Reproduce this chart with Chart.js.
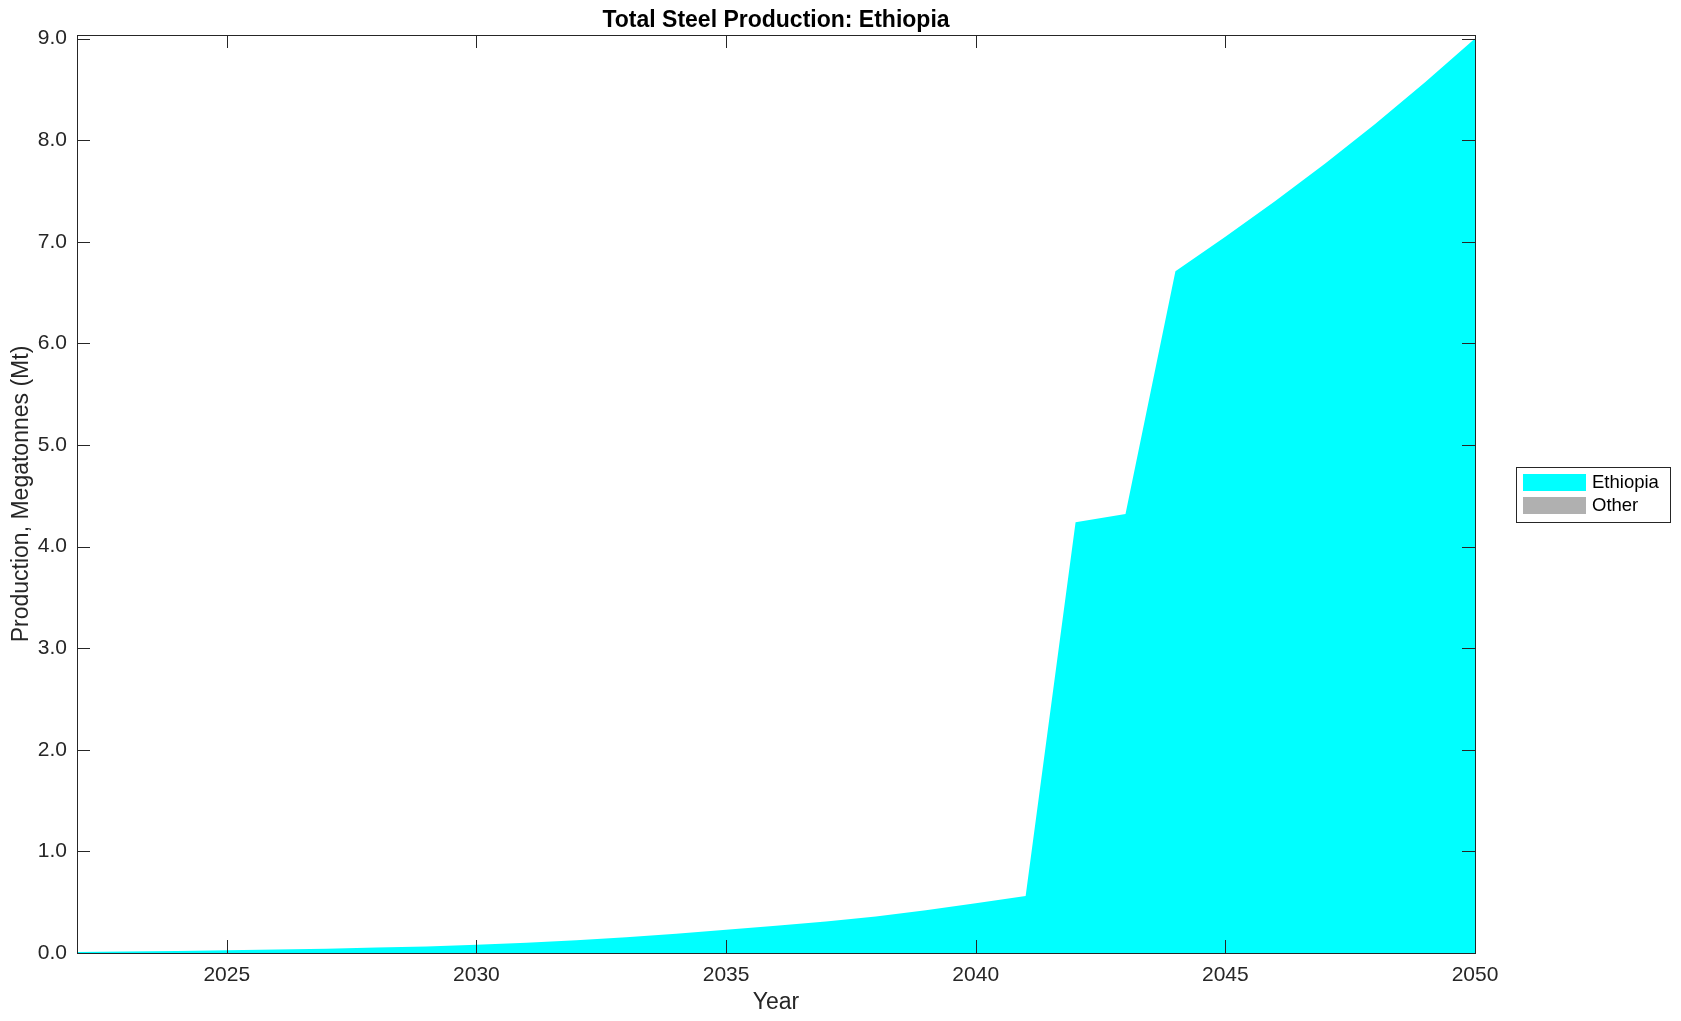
<!DOCTYPE html>
<html>
<head>
<meta charset="utf-8">
<title>Total Steel Production: Ethiopia</title>
<script src="https://cdn.jsdelivr.net/npm/chart.js@4.4.0/dist/chart.umd.min.js"></script>
<style>
  html, body { margin: 0; padding: 0; background: #fff; }
  canvas { display: block; }
</style>
</head>
<body>
<canvas id="steel" width="1681" height="1021"></canvas>
<script>
// --- data ---
const years = [2022, 2023, 2024, 2025, 2026, 2027, 2028, 2029, 2030, 2031,
               2032, 2033, 2034, 2035, 2036, 2037, 2038, 2039, 2040, 2041,
               2042, 2043, 2044, 2045, 2046, 2047, 2048, 2049, 2050];
const ethiopia = [0.010, 0.015, 0.020, 0.027, 0.034, 0.043, 0.053, 0.065, 0.080, 0.100,
                  0.125, 0.155, 0.190, 0.230, 0.267, 0.310, 0.360, 0.420, 0.490, 0.560,
                  4.240, 4.320, 6.710, 7.050, 7.400, 7.770, 8.160, 8.570, 9.000];
const other = [0, 0, 0, 0, 0, 0, 0, 0, 0, 0,
               0, 0, 0, 0, 0, 0, 0, 0, 0, 0,
               0, 0, 0, 0, 0, 0, 0, 0, 0];
const xTicks = [2025, 2030, 2035, 2040, 2045, 2050];
const yTicks = [0, 1, 2, 3, 4, 5, 6, 7, 8, 9];

const AXIS = '#262626';
const FONT = '"Liberation Sans", Arial, Helvetica, sans-serif';

// box, inward ticks, titles and legend drawn MATLAB style
const matlabFrame = {
    id: 'matlabFrame',
    afterDatasetsDraw(chart) {
        const ctx = chart.ctx;
        const { left, right, top, bottom } = chart.chartArea;
        const tl = 13;
        ctx.save();
        ctx.strokeStyle = AXIS;
        ctx.lineWidth = 1;
        ctx.beginPath();
        chart.scales.x.ticks.forEach(t => {
            const px = Math.round(chart.scales.x.getPixelForValue(t.value)) + 0.5;
            ctx.moveTo(px, bottom); ctx.lineTo(px, bottom - tl);
            ctx.moveTo(px, top); ctx.lineTo(px, top + tl);
        });
        chart.scales.y.ticks.forEach(t => {
            const py = Math.round(chart.scales.y.getPixelForValue(t.value)) + 0.5;
            ctx.moveTo(left, py); ctx.lineTo(left + tl, py);
            ctx.moveTo(right, py); ctx.lineTo(right - tl, py);
        });
        ctx.stroke();
        ctx.strokeRect(Math.round(left) + 0.5, Math.round(top) + 0.5,
                       Math.round(right - left), Math.round(bottom - top));
        ctx.restore();
    },
    afterDraw(chart) {
        const ctx = chart.ctx;
        const { left, right, top, bottom } = chart.chartArea;
        const cx = (left + right) / 2;
        ctx.save();
        // title
        ctx.fillStyle = '#000';
        ctx.font = 'bold 23px ' + FONT;
        ctx.textAlign = 'center';
        ctx.textBaseline = 'middle';
        ctx.fillText('Total Steel Production: Ethiopia', cx, 21);
        // axis titles
        ctx.fillStyle = AXIS;
        ctx.font = '23px ' + FONT;
        ctx.fillText('Year', cx, 1003);
        ctx.translate(22, (top + bottom) / 2);
        ctx.rotate(-Math.PI / 2);
        ctx.fillText('Production, Megatonnes (Mt)', 0, 0);
        ctx.restore();

        // legend
        ctx.save();
        ctx.fillStyle = '#fff';
        ctx.fillRect(1516, 467, 154, 55);
        ctx.strokeStyle = AXIS;
        ctx.lineWidth = 1;
        ctx.strokeRect(1516.5, 467.5, 154, 55);
        ctx.font = '18.5px ' + FONT;
        ctx.textAlign = 'left';
        ctx.textBaseline = 'middle';
        chart.data.datasets.forEach((ds, i) => {
            const y = 474 + i * 23;
            ctx.fillStyle = ds.backgroundColor;
            ctx.fillRect(1523, y, 63, 17);
            ctx.fillStyle = '#000';
            ctx.fillText(ds.label, 1592, y + 9);
        });
        ctx.restore();
    }
};

new Chart(document.getElementById('steel'), {
    type: 'line',
    data: {
        datasets: [
            {
                label: 'Ethiopia',
                data: years.map((y, i) => ({ x: y, y: ethiopia[i] })),
                backgroundColor: '#00ffff',
                borderWidth: 0,
                pointRadius: 0,
                fill: 'origin',
                tension: 0
            },
            {
                label: 'Other',
                data: years.map((y, i) => ({ x: y, y: other[i] })),
                backgroundColor: '#b0b0b0',
                borderWidth: 0,
                pointRadius: 0,
                fill: '-1',
                tension: 0
            }
        ]
    },
    options: {
        responsive: false,
        animation: false,
        devicePixelRatio: 1,
        layout: { padding: { left: 0, top: 35, right: 206, bottom: 0 } },
        plugins: {
            legend: { display: false },
            title: { display: false },
            tooltip: { enabled: false }
        },
        scales: {
            x: {
                type: 'linear',
                min: 2022,
                max: 2050,
                grid: { display: false, drawTicks: false },
                border: { display: false },
                afterBuildTicks: s => { s.ticks = xTicks.map(v => ({ value: v })); },
                afterFit: s => { s.height = 68; },
                ticks: {
                    color: AXIS,
                    font: { family: FONT, size: 21 },
                    padding: 10,
                    maxRotation: 0,
                    callback: v => String(v)
                }
            },
            y: {
                stacked: true,
                min: 0,
                max: 9.035,
                grid: { display: false, drawTicks: false },
                border: { display: false },
                afterBuildTicks: s => { s.ticks = yTicks.map(v => ({ value: v })); },
                afterFit: s => { s.width = 77; },
                ticks: {
                    color: AXIS,
                    font: { family: FONT, size: 21 },
                    padding: 10,
                    callback: v => Number(v).toFixed(1)
                }
            }
        }
    },
    plugins: [matlabFrame]
});
</script>
</body>
</html>
